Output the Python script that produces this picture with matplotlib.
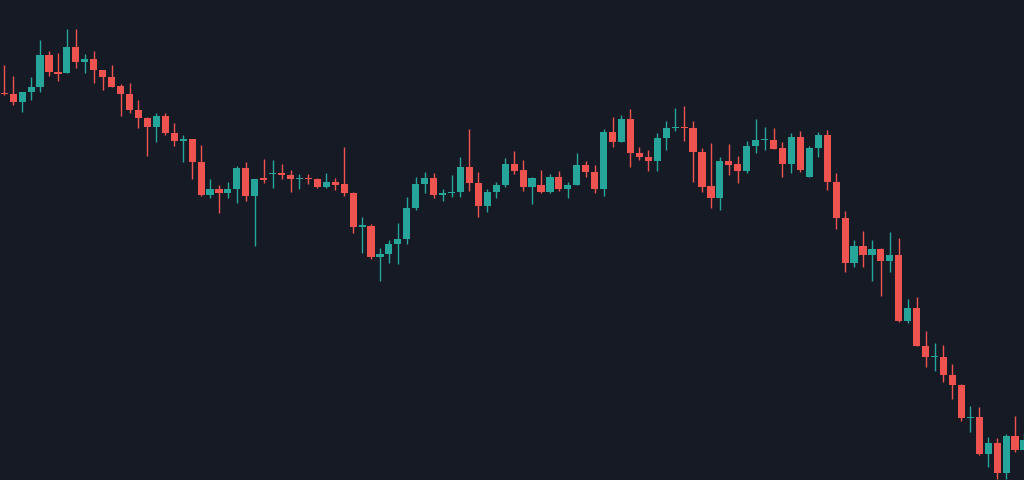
import numpy as np
import matplotlib
matplotlib.use("Agg")
import matplotlib.pyplot as plt

# OHLC series (one candle per bar, left to right)
opens = [406.7, 405.7, 397.7, 408.0, 413.3, 444.7, 428.3, 426.7, 453.3, 438.3,
         441.3, 430.0, 423.3, 414.0, 406.0, 390.0, 381.7, 372.7, 384.3, 367.0,
         359.3, 360.7, 337.7, 305.0, 310.7, 307.3, 310.7, 331.7, 304.0, 321.7,
         326.0, 327.3, 325.3, 320.7, 322.0, 321.0, 313.0, 317.7, 316.0, 306.7,
         273.3, 274.3, 243.3, 245.7, 256.0, 261.0, 292.3, 316.0, 321.7, 305.0,
         306.7, 308.3, 333.3, 316.7, 294.0, 307.7, 315.0, 335.7, 330.0, 313.3,
         315.0, 308.3, 323.3, 310.7, 315.0, 335.0, 328.3, 310.7, 367.7, 357.7,
         381.0, 346.7, 342.7, 339.0, 362.3, 371.7, 373.3, 371.7, 347.7, 314.0,
         302.3, 339.0, 335.7, 329.0, 354.3, 359.7, 360.5, 351.7, 335.7, 363.3,
         322.7, 352.3, 365.0, 318.3, 281.7, 236.7, 254.0, 244.7, 251.0, 238.7,
         245.0, 179.0, 191.7, 154.3, 142.7, 143.3, 124.7, 115.3, 81.7, 83.3,
         46.3, 56.7, 26.7, 64.0, 50.0]
highs = [435.0, 424.3, 408.3, 423.3, 460.0, 449.0, 447.0, 471.0, 471.0, 446.0,
         448.7, 430.0, 435.0, 415.7, 417.3, 400.0, 382.7, 386.7, 386.7, 377.3,
         365.0, 360.7, 355.0, 320.7, 315.0, 317.7, 334.0, 338.3, 321.0, 341.0,
         340.0, 335.7, 330.0, 326.0, 326.0, 321.7, 327.3, 321.7, 353.3, 308.3,
         282.7, 275.7, 252.3, 260.0, 276.7, 303.3, 322.7, 328.3, 326.7, 310.7,
         325.0, 342.7, 370.7, 328.3, 311.0, 317.7, 341.7, 349.0, 340.0, 323.3,
         330.0, 326.0, 329.0, 318.3, 346.7, 339.3, 335.0, 370.7, 383.3, 385.0,
         390.7, 352.7, 350.0, 366.7, 379.0, 391.7, 394.0, 379.0, 351.7, 356.7,
         342.7, 356.0, 344.0, 359.3, 381.0, 372.7, 372.5, 358.3, 366.7, 369.0,
         354.0, 367.7, 370.0, 326.7, 289.3, 260.0, 269.0, 260.0, 251.7, 267.7,
         261.7, 200.7, 202.7, 169.0, 156.7, 155.0, 136.0, 115.7, 94.0, 93.3,
         63.3, 62.3, 65.7, 84.0, 67.3]
lows = [405.0, 395.0, 387.7, 400.0, 408.3, 424.0, 419.3, 426.7, 432.3, 426.7,
        417.3, 410.0, 413.3, 384.0, 387.3, 371.7, 344.0, 358.3, 365.3, 354.3,
        338.3, 320.7, 304.0, 302.3, 287.3, 301.7, 297.3, 299.3, 254.0, 316.7,
        312.3, 320.7, 308.3, 311.0, 316.3, 312.0, 312.0, 310.0, 304.0, 267.3,
        247.3, 240.7, 219.3, 237.3, 235.7, 255.7, 290.0, 307.3, 301.7, 299.0,
        303.3, 302.7, 309.3, 282.7, 288.3, 302.3, 313.3, 326.0, 309.0, 295.7,
        307.3, 307.3, 309.3, 301.7, 315.0, 323.3, 307.3, 304.0, 352.7, 357.7,
        333.3, 340.0, 329.3, 329.3, 350.0, 369.0, 359.0, 317.7, 308.3, 292.3,
        290.0, 325.0, 317.3, 326.7, 346.7, 350.0, 351.0, 322.7, 327.3, 328.3,
        322.7, 343.3, 310.0, 270.7, 227.7, 233.3, 233.3, 219.3, 204.0, 228.3,
        178.3, 176.7, 154.0, 133.3, 129.0, 118.3, 101.3, 79.3, 68.3, 45.0,
        33.3, 21.3, 20.7, 48.3, 50.0]
closes = [405.7, 397.7, 408.3, 413.3, 444.7, 428.0, 426.3, 453.3, 438.3, 441.3,
          430.0, 423.3, 413.3, 405.7, 390.0, 381.7, 372.7, 384.3, 366.7, 359.0,
          360.7, 337.7, 305.0, 310.7, 307.3, 310.7, 331.7, 304.0, 321.0, 320.3,
          327.3, 324.7, 320.7, 322.0, 320.7, 313.0, 317.7, 315.3, 306.7, 273.3,
          274.7, 243.3, 245.7, 255.7, 261.0, 292.3, 316.0, 321.7, 305.0, 306.7,
          308.3, 333.3, 316.7, 294.0, 307.7, 315.3, 335.7, 329.5, 313.3, 322.3,
          308.3, 323.3, 310.7, 315.0, 335.0, 328.3, 310.7, 367.7, 357.7, 381.0,
          346.7, 342.7, 339.0, 362.3, 371.7, 373.3, 371.7, 347.7, 313.3, 302.3,
          339.0, 335.0, 329.0, 354.3, 360.3, 361.0, 351.3, 335.7, 363.3, 330.0,
          352.3, 365.0, 318.3, 281.7, 236.7, 254.0, 244.7, 251.0, 238.7, 245.0,
          179.0, 191.7, 154.3, 143.3, 144.0, 124.7, 115.3, 81.7, 83.3, 46.3,
          56.7, 26.7, 64.0, 50.0, 60.0]

BG = "#161a25"
UP = "#26a69a"
DOWN = "#ef5350"

o = np.array(opens); h = np.array(highs)
l = np.array(lows); c = np.array(closes)
x = np.arange(len(o))
colors = np.where(c >= o, UP, DOWN)

fig = plt.figure(figsize=(10.24, 4.8), dpi=100, facecolor=BG)
ax = fig.add_axes([0, 0, 1, 1], facecolor=BG)

# wicks then bodies
ax.vlines(x, l, h, colors=colors, linewidth=1.0, zorder=1)
body_lo = np.minimum(o, c)
body_h = np.maximum(np.abs(c - o), 1.2)
ax.bar(x, body_h, bottom=body_lo, width=0.8, color=colors, linewidth=0, zorder=2)

ax.set_xlim(-0.48, 114.0)
ax.set_ylim(20, 500)
ax.axis("off")

fig.savefig("out.png", dpi=100, facecolor=BG)
